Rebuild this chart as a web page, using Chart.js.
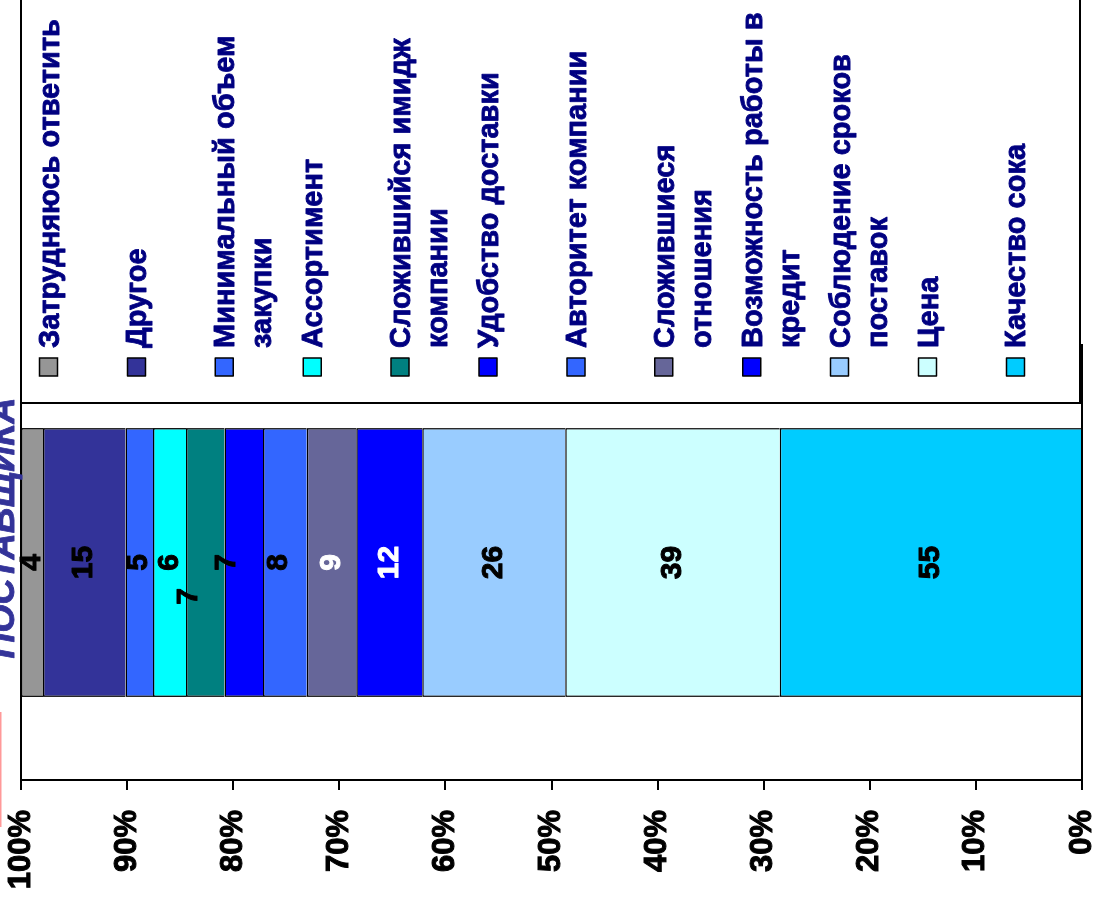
<!DOCTYPE html>
<html lang="ru">
<head>
<meta charset="utf-8">
<title>Факторы выбора поставщика</title>
<script src="https://cdn.jsdelivr.net/npm/chart.js@4/dist/chart.umd.min.js"></script>
<style>
  html, body { margin: 0; padding: 0; width: 1097px; height: 902px; overflow: hidden; background: #fff; }
  /* the chart is laid out upright and then turned a quarter turn counter-clockwise */
  #wrap { position: absolute; left: 0; top: 0; width: 902px; height: 1097px;
          transform-origin: 0 0; transform: translateY(902px) rotate(-90deg); }
  canvas { display: block; }
</style>
</head>
<body>
<div id="wrap"><canvas id="chart" width="902" height="1097"></canvas></div>
<script>
// Stack order: first series sits at 0%, last one at 100%
const seriesNames = [
  'Качество сока',
  'Цена',
  'Соблюдение сроков поставок',
  'Возможность работы в кредит',
  'Сложившиеся отношения',
  'Авторитет компании',
  'Удобство доставки',
  'Сложившийся имидж компании',
  'Ассортимент',
  'Минимальный объем закупки',
  'Другое',
  'Затрудняюсь ответить'
];
const seriesValues = [55, 39, 26, 12, 9, 8, 7, 7, 6, 5, 15, 4];
const valueTicks = [0, 10, 20, 30, 40, 50, 60, 70, 80, 90, 100];
const titleText = 'ПОСТАВЩИКА';

// Styling
const seriesColors = ['#00CCFF', '#CCFFFF', '#99CCFF', '#0000FF', '#666699', '#3366FF',
                      '#0000FF', '#008080', '#00FFFF', '#3366FF', '#333399', '#969696'];
const valueLabelColors = ['#000', '#000', '#000', '#fff', '#fff', '#000',
                          '#000', '#000', '#000', '#000', '#000', '#000'];
// nudges for the crowded value labels [dx, dy]
const valueLabelShift = [[0,0],[0,0],[0,0],[0,0],[0,0],[0,-6.5],
                         [0,-16.5],[-34,-16],[0,0],[0,0],[0,0],[0,0]];

const FONT = 'Arial, "Liberation Sans", Helvetica, sans-serif';
const total = seriesValues.reduce((a, b) => a + b, 0);
const shares = seriesValues.map(v => v / total * 100);

const LEG = { left: 499, top: 21, bottom: 1080, markerX: 526, marker: 18,
              textX: 554, first: 48.5, step: 87.9, lineGap: 37, maxWidth: 346 };

function wrapText(ctx, text, maxWidth) {
  const words = text.split(' ');
  const lines = [];
  let line = '';
  for (const w of words) {
    const test = line ? line + ' ' + w : w;
    if (line && ctx.measureText(test).width > maxWidth) {
      lines.push(line);
      line = w;
    } else {
      line = test;
    }
  }
  if (line) lines.push(line);
  return lines;
}

// bold text with a hairline outline so the strokes read heavier
function heavyText(ctx, text, x, y, color, w) {
  ctx.fillStyle = color;
  ctx.strokeStyle = color;
  ctx.lineWidth = w;
  ctx.lineJoin = 'round';
  ctx.strokeText(text, x, y);
  ctx.fillText(text, x, y);
}

const decor = {
  id: 'decor',
  afterDatasetsDraw(chart) {
    const { ctx, chartArea: a } = chart;
    ctx.save();
    // plot frame
    ctx.strokeStyle = '#000';
    ctx.lineWidth = 2;
    ctx.strokeRect(a.left, a.top, a.right - a.left, a.bottom - a.top);
    // value labels in the middle of each segment
    ctx.font = `bold 30px ${FONT}`;
    ctx.textAlign = 'center';
    ctx.textBaseline = 'middle';
    chart.data.datasets.forEach((ds, i) => {
      const bar = chart.getDatasetMeta(i).data[0];
      const cx = bar.x + valueLabelShift[i][0];
      const cy = (bar.y + bar.base) / 2 + valueLabelShift[i][1];
      heavyText(ctx, String(seriesValues[i]), cx, cy, valueLabelColors[i], 1);
    });
    ctx.restore();
  },
  afterDraw(chart) {
    const { ctx, width } = chart;
    ctx.save();
    // legend box
    ctx.fillStyle = '#fff';
    ctx.fillRect(LEG.left, LEG.top, width - LEG.left + 10, LEG.bottom - LEG.top);
    ctx.strokeStyle = '#000';
    ctx.lineWidth = 2;
    ctx.strokeRect(LEG.left, LEG.top, width - LEG.left + 10, LEG.bottom - LEG.top);
    ctx.font = `bold 29px ${FONT}`;
    ctx.textAlign = 'left';
    ctx.textBaseline = 'alphabetic';
    const n = seriesNames.length;
    for (let k = 0; k < n; k++) {
      const i = n - 1 - k;
      const cy = LEG.first + LEG.step * k;
      ctx.fillStyle = seriesColors[i];
      ctx.fillRect(LEG.markerX, cy - LEG.marker / 2, LEG.marker, LEG.marker);
      ctx.lineWidth = 1.5;
      ctx.strokeStyle = '#000';
      ctx.strokeRect(LEG.markerX, cy - LEG.marker / 2, LEG.marker, LEG.marker);
      const lines = wrapText(ctx, seriesNames[i], LEG.maxWidth);
      lines.forEach((ln, j) => heavyText(ctx, ln, LEG.textX, cy + 10 + j * LEG.lineGap, '#000080', 0.8));
    }
    // heading, mostly above the top edge
    ctx.font = `italic bold 36px ${FONT}`;
    ctx.textAlign = 'center';
    heavyText(ctx, titleText, 374, 14, '#333399', 0.8);
    // thin red edge at the corner
    ctx.fillStyle = '#FF9999';
    ctx.fillRect(75, 0, 115, 1.5);
    ctx.restore();
  }
};

new Chart(document.getElementById('chart'), {
  type: 'bar',
  data: {
    labels: [''],
    datasets: seriesNames.map((name, i) => ({
      label: name,
      data: [shares[i]],
      backgroundColor: seriesColors[i],
      borderColor: '#000',
      borderWidth: 1.5,
      barPercentage: 0.618,
      categoryPercentage: 1
    }))
  },
  options: {
    responsive: false,
    animation: false,
    devicePixelRatio: 1,
    layout: { padding: { left: 0, top: 21, right: 345, bottom: 15 } },
    plugins: { legend: { display: false }, tooltip: { enabled: false }, title: { display: false } },
    scales: {
      x: { stacked: true, display: false },
      y: {
        stacked: true,
        min: 0,
        max: 100,
        afterBuildTicks: s => { s.ticks = valueTicks.map(v => ({ value: v })); },
        ticks: {
          callback: v => v + '%',
          font: { family: FONT, size: 31, weight: 'bold' },
          color: '#000',
          textStrokeColor: '#000',
          textStrokeWidth: 1,
          padding: 20
        },
        grid: { drawOnChartArea: false, drawTicks: true, tickLength: 10, color: '#000', lineWidth: 2 },
        border: { display: true, color: '#000', width: 2 },
        afterFit: s => { s.width = 122; s.paddingTop = 0; s.paddingBottom = 0; }
      }
    }
  },
  plugins: [decor]
});
</script>
</body>
</html>
